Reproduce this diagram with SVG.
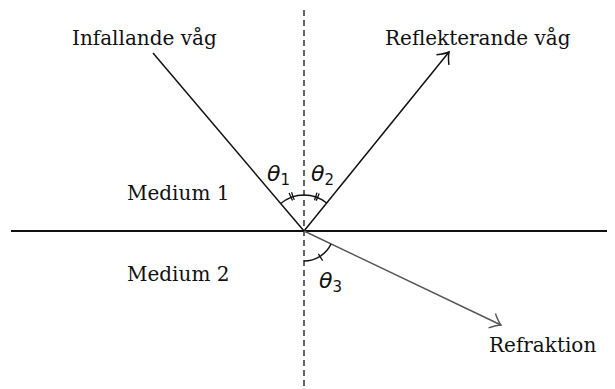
<svg xmlns="http://www.w3.org/2000/svg" width="615" height="389" viewBox="0 0 615 389">
<defs>
<style>
.lbl{font-family:"DejaVu Serif","Liberation Serif",serif;font-size:20px;fill:#111}
.th{font-family:"DejaVu Sans","Liberation Sans",sans-serif;font-size:22px;font-style:italic;fill:#111}
.sub{font-family:"DejaVu Sans","Liberation Sans",sans-serif;font-size:15px;font-style:normal;fill:#111}
.ray{fill:none;stroke:#111;stroke-width:1.5}
.arc{fill:none;stroke:#111;stroke-width:1.3}
</style>
<marker id="ahB" markerUnits="userSpaceOnUse" markerWidth="24" markerHeight="24" viewBox="-12 -12 24 24" refX="0" refY="0" orient="auto">
<path d="M-10,-8 Q-4,-2 0,0 Q-4,2 -10,8" fill="none" stroke="#111" stroke-width="1.5"/>
</marker>
<marker id="ahG" markerUnits="userSpaceOnUse" markerWidth="24" markerHeight="24" viewBox="-12 -12 24 24" refX="0" refY="0" orient="auto">
<path d="M-10,-8 Q-4,-2 0,0 Q-4,2 -10,8" fill="none" stroke="#555" stroke-width="1.4"/>
</marker>
</defs>
<rect width="615" height="389" fill="#fff"/>
<g id="connectors">
<line id="normal" x1="304" y1="10" x2="304" y2="386" stroke="#111" stroke-width="1.3" stroke-dasharray="6,4"/>
<line id="interface" x1="11" y1="231" x2="607" y2="231" stroke="#111" stroke-width="2.2"/>
<line id="incident" class="ray" x1="153" y1="53" x2="304" y2="231"/>
<line id="reflected" class="ray" x1="304" y1="231" x2="449" y2="52" marker-end="url(#ahB)"/>
<line id="refracted" x1="304" y1="231" x2="501" y2="325" stroke="#555" stroke-width="1.4" marker-end="url(#ahG)"/>
</g>
<g id="angle1">
<path class="arc" d="M280.7,203.6 A36,36 0 0 1 304,195"/>
<line class="arc" x1="292.5" y1="200.5" x2="289.1" y2="193.1"/>
<line class="arc" x1="294.2" y1="199.9" x2="291.5" y2="192.2"/>
<text class="th" x="267" y="181">θ<tspan class="sub" dy="4">1</tspan></text>
</g>
<g id="angle2">
<path class="arc" d="M304,195 A36,36 0 0 1 326.7,203"/>
<line class="arc" x1="314.5" y1="200.2" x2="317.0" y2="192.6"/>
<line class="arc" x1="316.2" y1="200.8" x2="319.2" y2="193.4"/>
<text class="th" x="311" y="181">θ<tspan class="sub" dy="4">2</tspan></text>
</g>
<g id="angle3">
<path class="arc" d="M304,261 A30,30 0 0 0 331.1,243.9"/>
<line class="arc" x1="318.4" y1="253.8" x2="322.6" y2="260.6"/>
<text class="th" x="319" y="288">θ<tspan class="sub" dy="4">3</tspan></text>
</g>
<g id="incident-label"><text class="lbl" x="72" y="45">Infallande våg</text></g>
<g id="reflected-label"><text class="lbl" x="385" y="45">Reflekterande våg</text></g>
<g id="medium1"><text class="lbl" x="127" y="200">Medium 1</text></g>
<g id="medium2"><text class="lbl" x="127" y="281">Medium 2</text></g>
<g id="refraction-label"><text class="lbl" x="489" y="352">Refraktion</text></g>
</svg>
